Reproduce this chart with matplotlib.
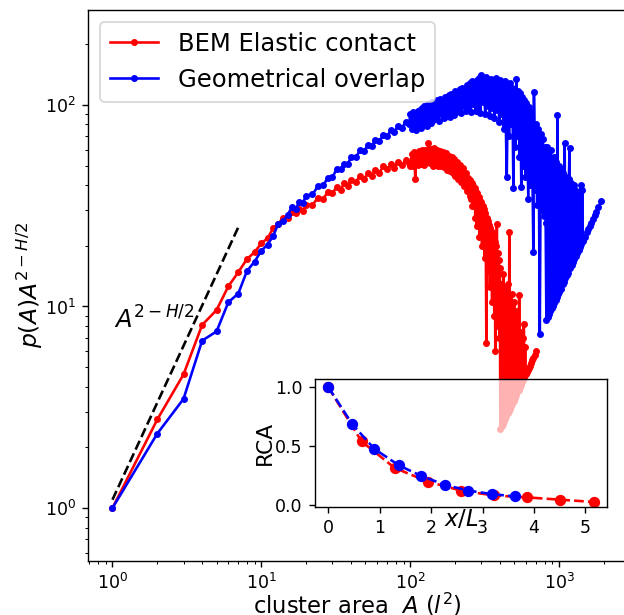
import numpy as np
import matplotlib
matplotlib.use('Agg')
from matplotlib import pyplot as plt

# Hurst exponent used for the compensation A^(2-H/2)
H = 0.8

# cluster areas (in l^2) and compensated distribution p(A) A^(2-H/2)
area_red = [1, 2, 3, 4, 5, 6, 7, 8, 9, 10, 11, 12, 13,
            14, 15, 16, 17, 18, 19, 20, 22, 24, 26,
            28, 30, 32, 34, 36, 38, 40, 43, 46, 49,
            52, 55, 58, 62, 66, 70, 74, 78, 83, 88,
            93, 98,
            100, 102, 104, 106, 108, 110, 112, 114, 117, 120,
            123, 126, 129, 132, 135, 138, 141, 144, 147, 150,
            153, 157, 161, 165, 169, 173, 177, 181, 185, 189,
            193, 197, 201, 205, 210, 215, 220, 225, 230, 235,
            240, 245, 250,
            252, 255, 258, 261, 264, 267, 270, 273, 276, 279,
            282, 285, 288, 291, 294, 297, 300, 303, 306, 309,
            312, 315, 318, 321, 324, 327, 330, 333, 336, 339,
            342, 345, 348, 351, 354, 357, 360, 363, 366, 369,
            372, 375, 378, 381, 384, 387, 390, 393, 396, 399,
            402, 406, 410, 414, 418, 422, 426, 430, 434, 438,
            442, 446, 450, 454, 458, 462, 466, 470, 474, 478,
            483, 488, 493, 498, 503, 508, 513, 518, 523, 528,
            533, 538, 543, 548, 553, 558, 563, 568, 573, 578,
            584, 590, 596, 603, 612, 622, 633, 645, 657, 670,
            684, 702]
p_red = [1.0, 2.75, 4.6, 8.1, 9.6, 12.6, 14.8, 17.2, 18.6, 20.6, 21.8, 24.4, 25.8,
         27.5, 27.4, 29.5, 29.0, 30.5, 29.8, 32.0, 32.0, 34.5, 34.3,
         37.0, 36.4, 39.2, 38.0, 40.8, 39.8, 42.6, 41.5, 44.5, 43.0,
         46.0, 44.6, 47.4, 46.2, 49.7, 48.1, 50.9, 48.9, 52.2, 50.2,
         53.4, 51.3,
         49.5, 57.0, 50.0, 58.5, 43.0, 57.5, 50.5, 59.0, 51.0, 60.0,
         50.5, 59.5, 52.0, 65.0, 51.5, 60.5, 50.0, 61.0, 52.0, 59.5,
         50.0, 59.0, 49.5, 58.5, 49.0, 57.5, 47.5, 56.0, 47.0, 55.0,
         46.0, 54.0, 44.5, 52.0, 43.0, 50.5, 41.5, 48.5, 39.5, 46.0,
         37.5, 43.5, 35.5,
         42.5, 34.0, 41.0, 31.5, 39.5, 33.0, 38.5, 27.5, 37.0, 25.0,
         36.5, 29.0, 35.0, 22.0, 33.5, 26.0, 33.0, 20.0, 31.5, 23.5,
         30.5, 17.5, 29.0, 21.0, 6.6, 27.5, 15.0, 26.5, 18.0, 25.5,
         12.5, 24.5, 16.0, 23.5, 10.5, 22.5, 14.0, 22.0, 9.0, 21.0,
         6.0, 20.0, 12.0, 25.8, 8.0, 18.5, 10.0, 17.0, 7.0, 15.5,
         2.46, 13.0, 2.54, 10.0, 2.62, 14.5, 2.70, 8.0, 2.78, 12.5,
         2.86, 6.5, 2.95, 13.0, 3.03, 23.5, 3.11, 9.0, 3.20, 11.5,
         3.30, 6.0, 3.41, 10.5, 3.52, 7.0, 3.63, 9.5, 3.75, 5.5,
         3.86, 11.4, 3.98, 7.5, 4.10, 6.0, 4.22, 7.0, 4.34, 8.2,
         4.47, 6.3, 4.62, 4.71, 4.82, 4.95, 5.09, 5.24, 5.40, 5.57,
         5.76, 6.00]

area_blue = [1, 2, 3, 4, 5, 6, 7, 8, 9, 10, 11, 12, 13,
             14, 15, 16, 17, 18, 19, 20, 22, 24, 26,
             28, 30, 32, 34, 36, 38, 40, 43, 46, 49,
             52, 55, 58, 62, 66, 70, 74, 78, 83, 88,
             93, 98,
             100, 102, 104, 106, 108, 110, 112, 114, 116, 118,
             120, 122, 124, 126, 128, 130, 132, 134, 136, 138,
             140, 143, 146, 149, 152, 155, 158, 161, 164, 167,
             170, 173, 176, 179, 182, 185, 188, 191, 194, 197,
             200, 204, 208, 212, 216, 220, 224, 228, 232, 236,
             240, 245, 250, 255, 260, 265, 270, 275, 280, 285,
             290, 295, 300, 306, 312, 318, 324, 330, 336, 342,
             348, 354, 360, 367, 374, 381, 388, 395, 402, 409,
             416, 423, 430, 437, 444, 452, 460, 468, 476, 484,
             492, 500, 508, 516, 524, 532, 540, 548, 556, 565,
             574, 583, 592, 601, 610, 620, 630, 640, 650, 660,
             670, 676, 690, 700, 710, 720, 730, 740, 752, 764,
             776, 788, 800, 810, 819,
             828, 836, 845, 853, 862, 870, 879, 888, 897, 906,
             915, 924, 934, 944, 954, 962, 971, 980, 990, 1000,
             1010, 1020, 1031, 1042, 1053, 1064, 1075, 1087, 1099, 1111,
             1123, 1135, 1147, 1160, 1172, 1185, 1198, 1211, 1224, 1237,
             1250, 1264, 1278, 1292, 1306, 1320, 1334, 1348, 1362, 1377,
             1393, 1409, 1425, 1441,
             1480, 1525, 1560, 1603, 1640, 1683, 1730, 1774, 1830, 1918]
p_blue = [1.0, 2.34, 3.48, 6.77, 7.52, 10.5, 11.6, 15.0, 16.7, 18.9, 20.3, 22.4, 25.8,
          26.6, 28.5, 31.0, 30.5, 33.0, 32.8, 35.5, 36.0, 39.5, 40.0,
          43.5, 43.8, 48.0, 48.0, 51.0, 51.0, 55.0, 55.0, 59.5, 59.0,
          63.5, 62.5, 67.0, 66.5, 71.0, 70.0, 75.0, 73.5, 79.0, 77.0,
          82.5, 80.0,
          90, 76, 92, 78, 88, 75, 93, 80, 94, 77,
          97, 80, 99, 83, 95, 79, 101, 85, 102, 81,
          104, 84, 103, 88, 106, 83, 107, 90, 105, 86,
          110, 88, 108, 92, 112, 87, 113, 95, 110, 89,
          117, 92, 115, 97, 120, 91, 121, 99, 118, 93,
          125, 96, 128, 92, 131, 101, 127, 93, 133, 98,
          136, 91, 141, 104, 134, 90, 137, 99, 132, 88,
          135, 97, 130, 86, 136, 94, 128, 82, 133, 90,
          127, 76, 131, 85, 44, 124, 70, 128, 80, 122,
          38.6, 119, 62, 135, 70, 117, 55, 114, 39, 110,
          50, 106, 44, 102, 60, 34, 98, 40, 92, 48,
          18.6, 116, 38, 80, 32, 76, 42, 7.3, 72, 30,
          68, 28, 62, 26, 8.6,
          62, 8.89, 58, 9.18, 40, 9.47, 60, 9.79, 32, 10.1,
          55, 10.4, 26, 10.8, 52, 11.1, 89, 11.5, 50, 11.8,
          48, 12.2, 28, 47.5, 12.9, 46, 13.3, 65, 13.8, 44,
          14.3, 26, 14.7, 43, 61, 15.5, 41, 16.1, 30, 16.6,
          40, 17.2, 38, 17.8, 30, 18.5, 37, 19.1, 33, 19.7,
          40, 20.5, 38, 21.2,
          22.2, 23.3, 24.1, 25.2, 26.1, 27.2, 28.5, 29.6, 31.1, 33.5]

# power-law guide
A_guide = np.array([1.0, 7.0])
guide = 1.1 * A_guide ** (2 - H / 2)

# relative contact area vs distance (inset)
x_red = [0, 0.645, 1.29, 1.935, 2.58, 3.225, 3.87, 4.515, 5.16]
rca_red = [1.0, 0.539, 0.313, 0.196, 0.12, 0.078, 0.062, 0.042, 0.023]
x_blue = [0, 0.467, 0.895, 1.37, 1.80, 2.27, 2.72, 3.18, 3.63]
rca_blue = [1.0, 0.684, 0.475, 0.335, 0.246, 0.168, 0.12, 0.09, 0.07]

fig = plt.figure(figsize=(4.992, 4.92), dpi=125)
ax = fig.add_axes([0.141, 0.0878, 0.862, 0.896])
ax.loglog(area_red, p_red, 'r.-', label='BEM Elastic contact')
ax.loglog(area_blue, p_blue, 'b.-', label='Geometrical overlap')
ax.loglog(A_guide, guide, 'k--')
ax.text(1.02, 7.8, r'$A^{2-H/2}$', fontsize=14)
ax.set_xlim(0.685, 2800)
ax.set_ylim(0.546, 296)
ax.set_xlabel(r'cluster area  $A$ ($l^2$)', fontsize=13, labelpad=-1)
ax.set_ylabel(r'$p(A)A^{2-H/2}$', fontsize=13.5, labelpad=0)
ax.legend(loc='upper left', fontsize=14)

ins = fig.add_axes([0.5048, 0.1756, 0.468, 0.2081])
ins.patch.set_alpha(0.7)
ins.plot(x_red, rca_red, 'ro--', ms=5.5)
ins.plot(x_blue, rca_blue, 'bo--', ms=5.5)
ins.set_xlim(-0.26, 5.42)
ins.set_ylim(-0.02, 1.07)
ins.set_xticks([0, 1, 2, 3, 4, 5])
ins.set_yticks([0.0, 0.5, 1.0])
ins.set_xlabel('$x/L$', fontsize=13, labelpad=-17)
ins.set_ylabel('RCA', fontsize=12.5, labelpad=0)

fig.savefig('out.png', dpi=125)
